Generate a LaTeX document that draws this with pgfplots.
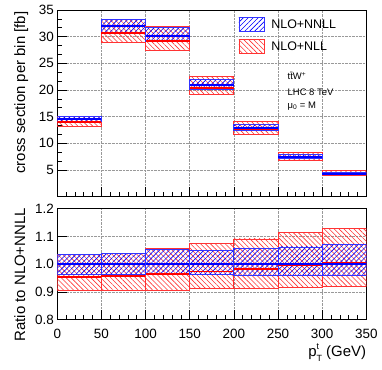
\documentclass[border=0pt]{standalone}
\usepackage{fontspec}
\setmainfont{Liberation Sans}
\usepackage{pgfplots}
\usepackage{pgfplotstable}
\pgfplotsset{compat=1.18}
\usetikzlibrary{patterns.meta}

% bins: edges, NLO+NNLL central/band, NLO+NLL central/band
\pgfplotstableread{
xa  xb  c    blo   bhi   rc    rlo   rhi
0   50  14.6 14.09 15.11 13.94 13.21 15.11
50  100 32.0 30.78 33.28 30.66 28.99 33.28
100 150 30.2 29.08 31.71 29.17 27.36 31.95
150 200 21.0 20.20 22.05 20.45 19.13 22.60
200 250 12.9 12.38 13.62 12.68 11.76 14.07
250 300 7.5  7.20  7.97  7.46  6.89  8.37
300 350 4.3  4.13  4.60  4.33  3.96  4.85
}\topdata

\pgfplotstableread{
xa  xb  c blo   bhi   rc    rlo   rhi
0   50  1 0.965 1.035 0.955 0.905 1.035
50  100 1 0.962 1.040 0.958 0.906 1.040
100 150 1 0.963 1.052 0.966 0.906 1.058
150 200 1 0.962 1.049 0.974 0.911 1.076
200 250 1 0.960 1.056 0.983 0.912 1.091
250 300 1 0.960 1.062 0.995 0.918 1.116
300 350 1 0.961 1.070 1.006 0.920 1.129
}\ratiodata

\pgfplotsset{
  nllband/.style={forget plot, draw=red!80, line width=0.8bp,
    pattern={Lines[angle=-45,distance=3.5bp,line width=0.6bp]}, pattern color=red!80},
  nnllband/.style={forget plot, draw=blue!80, line width=0.8bp,
    pattern={Lines[angle=45,distance=3.5bp,line width=0.6bp]}, pattern color=blue},
  nllline/.style={forget plot, red, line width=1.8bp},
  nnllline/.style={forget plot, blue, line width=1.8bp},
  rootaxis/.style={
    scale only axis, width=309bp,
    xmin=0, xmax=350, xtick={0,50,...,350}, minor x tick num=4,
    tick align=inside, tick pos=left,
    major tick length=10bp, minor tick length=5bp,
    axis line style={line width=0.8bp}, every tick/.style={black, line width=0.6bp},
    grid=major, grid style={densely dotted, gray!80, line width=0.5bp},
    no markers,
    tick label style={font=\fontsize{13.5}{16}\selectfont},
    /pgf/number format/assume math mode=true,
    label style={font=\fontsize{15}{18}\selectfont, inner sep=0pt},
  },
}

\newcommand\drawbins[1]{%
  \pgfplotsinvokeforeach{0,...,6}{%
    \pgfplotstablegetelem{##1}{xa}\of#1\let\xa\pgfplotsretval
    \pgfplotstablegetelem{##1}{xb}\of#1\let\xb\pgfplotsretval
    \pgfplotstablegetelem{##1}{c}\of#1\let\cc\pgfplotsretval
    \pgfplotstablegetelem{##1}{blo}\of#1\let\blo\pgfplotsretval
    \pgfplotstablegetelem{##1}{bhi}\of#1\let\bhi\pgfplotsretval
    \pgfplotstablegetelem{##1}{rc}\of#1\let\rc\pgfplotsretval
    \pgfplotstablegetelem{##1}{rlo}\of#1\let\rlo\pgfplotsretval
    \pgfplotstablegetelem{##1}{rhi}\of#1\let\rhi\pgfplotsretval
    \edef\doplots{%
      \noexpand\addplot[nllband] coordinates {(\xa,\rlo) (\xb,\rlo) (\xb,\rhi) (\xa,\rhi)} --cycle;
      \noexpand\addplot[nnllband] coordinates {(\xa,\blo) (\xb,\blo) (\xb,\bhi) (\xa,\bhi)} --cycle;
      \noexpand\addplot[nllline] coordinates {(\xa,\rc) (\xb,\rc)};
      \noexpand\addplot[nnllline] coordinates {(\xa,\cc) (\xb,\cc)};
    }\doplots
  }%
}

\begin{document}
\begin{tikzpicture}
\begin{axis}[rootaxis, name=top,
    height=186.7bp,
    ymin=0, ymax=35, ytick={5,10,...,35}, minor y tick num=2,
    xticklabels={},
    ylabel={cross section per bin [fb]},
    ylabel style={at={(rel axis cs:-0.1045,0.558)}, anchor=base},
    legend image code/.code={\draw[#1] (0bp,-7bp) rectangle (25bp,7bp);},
    legend style={at={(rel axis cs:0.586,0.963)}, anchor=north west,
      draw=none, fill=none, inner sep=0pt, row sep=7bp,
      font=\fontsize{12.5}{15}\selectfont,
      nodes={inner sep=0pt, text depth=0pt}},
    legend cell align=left,
  ]
  \drawbins{\topdata}
  \addlegendimage{draw=blue!80, line width=0.8bp, pattern={Lines[angle=45,distance=3.5bp,line width=0.6bp]}, pattern color=blue}
  \addlegendentry{\hspace{7bp}NLO+NNLL}
  \addlegendimage{draw=red!80, line width=0.8bp, pattern={Lines[angle=-45,distance=3.5bp,line width=0.6bp]}, pattern color=red!80}
  \addlegendentry{\hspace{7bp}NLO+NLL}
  \begin{scope}[every node/.style={anchor=base west, inner sep=0pt, font=\fontsize{9.5}{11}\selectfont}]
    \node at (axis cs:260.7,21.9) {t\={t}W\textsuperscript{+}};
    \node at (axis cs:260.7,18.9) {LHC 8 TeV};
    \node at (axis cs:260.7,16.6) {μ\textsubscript{0} = M};
  \end{scope}
\end{axis}

\begin{axis}[rootaxis, name=bottom,
    at={(top.south west)}, anchor=north west, yshift=-12bp,
    height=111bp,
    ymin=0.8, ymax=1.2, ytick={0.8,0.9,1.0,1.1,1.2},
    yticklabel style={/pgf/number format/.cd, fixed, fixed zerofill, precision=1},
    xticklabel style={yshift=-5.5bp},
    ylabel={Ratio to NLO+NNLL},
    ylabel style={at={(rel axis cs:-0.1045,0.405)}, anchor=base},
    xlabel={p\rlap{\raisebox{0.5em}{\fontsize{9}{9}\selectfont t}}\raisebox{-0.32em}{\fontsize{9}{9}\selectfont T} (GeV)},
    xlabel style={at={(rel axis cs:1,0)}, anchor=base east, yshift=-37bp},
  ]
  \drawbins{\ratiodata}
\end{axis}

\pgfresetboundingbox
\path[use as bounding box] (top.north west) ++(-57.3bp,10bp) rectangle ++(382bp,-370bp);
\end{tikzpicture}
\end{document}
